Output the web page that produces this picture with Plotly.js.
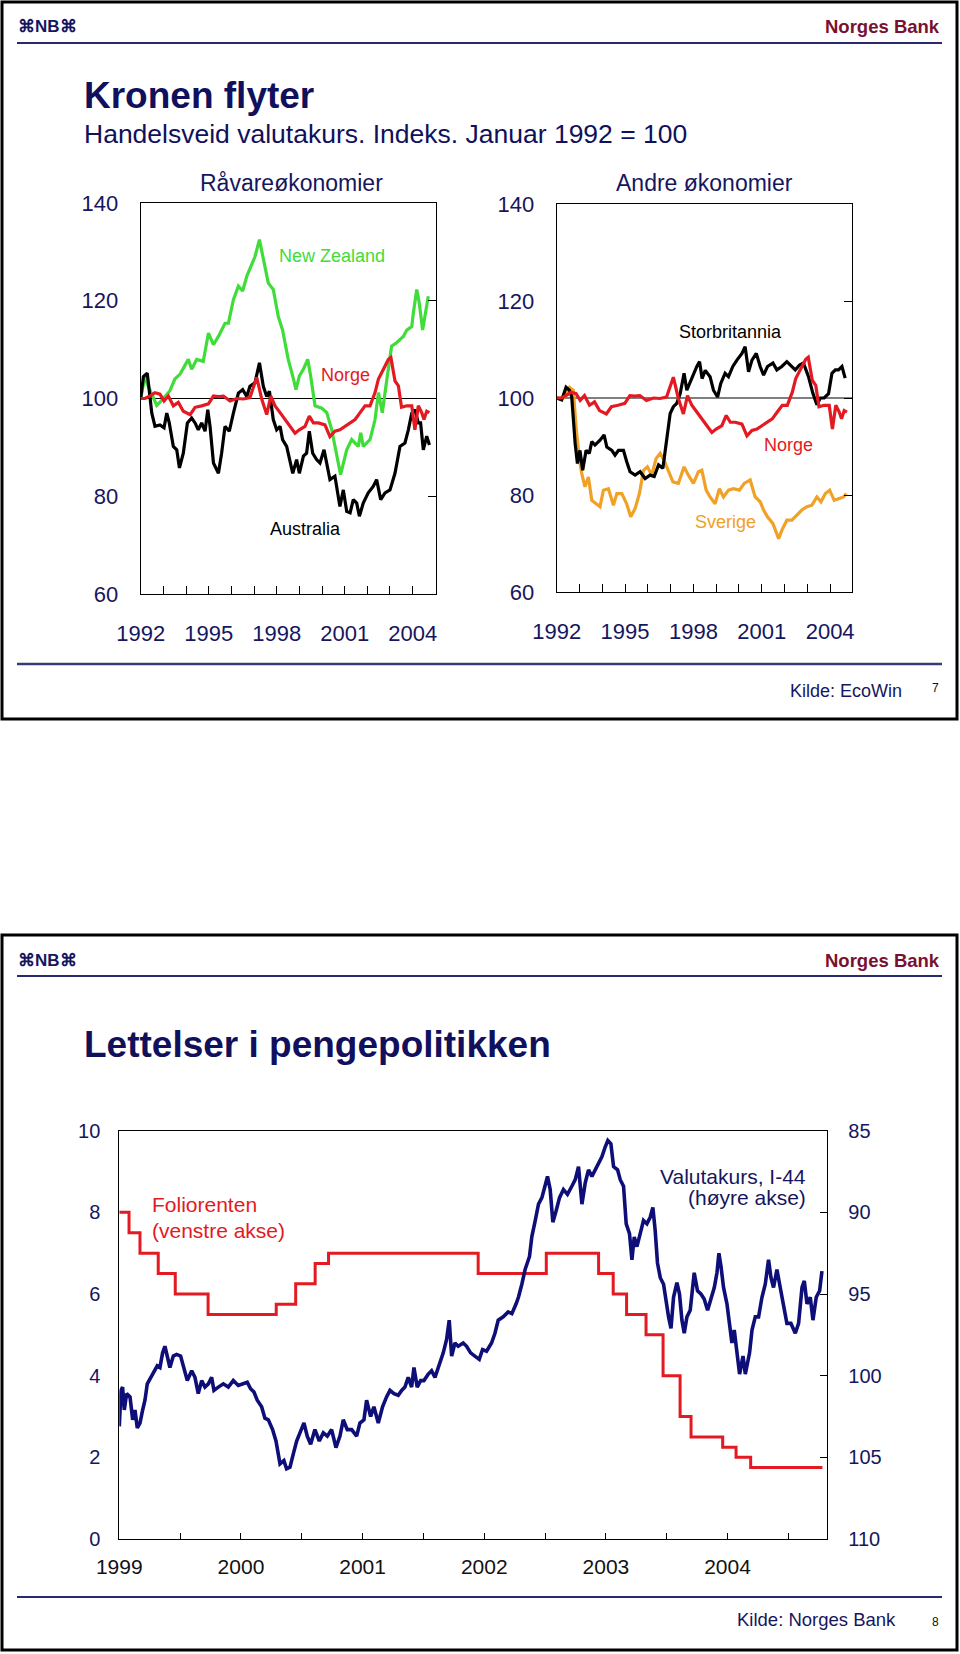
<!DOCTYPE html>
<html><head><meta charset="utf-8">
<script src="https://cdn.plot.ly/plotly-3.0.1.min.js"></script>
<style>html,body{margin:0;padding:0;background:#fff}#chart{width:960px;height:1654px}</style>
</head><body><div id="chart"></div>
<script>
// ---------- DATA ----------
// Top left panel: Råvareøkonomier (index, Jan 1992 = 100)
const nzYears = [1992.00,1992.19,1992.29,1992.71,1993.00,1993.29,1993.51,1993.74,1994.10,1994.25,1994.47,1994.76,1994.99,1995.21,1995.43,1995.72,1995.87,1996.09,1996.31,1996.50,1996.68,1996.90,1997.04,1997.24,1997.41,1997.63,1997.85,1998.07,1998.26,1998.51,1998.74,1998.85,1999.00,1999.18,1999.37,1999.50,1999.69,1999.99,2000.21,2000.43,2000.82,2001.09,2001.31,2001.60,2001.71,2001.82,2002.12,2002.34,2002.49,2002.66,2002.82,2003.07,2003.29,2003.59,2003.74,2003.96,2004.03,2004.18,2004.29,2004.44,2004.54,2004.69];
const nzValues = [100,104.6,103,98.6,100,101.6,104,105,108,106,108,107.6,113.4,111,112.7,115.4,115.4,120.2,123,122,125,127.7,129,132.5,128.4,123.6,122.3,116.8,114,108,104,101.8,104.6,106,108,104.6,98.5,98,97.1,93.6,84.4,89.5,91.6,90.2,93,90.2,91.6,95.7,101.2,97.1,102.5,110.7,111.4,112.7,114,114.7,117.5,122.3,119.6,114,116.8,120.9];

const auYears = [1992.00,1992.12,1992.29,1992.49,1992.63,1992.85,1993.03,1993.15,1993.26,1993.44,1993.59,1993.71,1993.88,1994.06,1994.25,1994.40,1994.54,1994.69,1994.84,1994.96,1995.06,1995.21,1995.43,1995.57,1995.72,1995.91,1996.09,1996.31,1996.50,1996.68,1996.82,1997.04,1997.24,1997.41,1997.56,1997.68,1997.85,1998.00,1998.15,1998.26,1998.44,1998.59,1998.71,1998.88,1999.00,1999.18,1999.32,1999.44,1999.59,1999.76,1999.91,2000.09,2000.21,2000.35,2000.57,2000.79,2000.94,2001.09,2001.24,2001.38,2001.53,2001.65,2001.82,2002.04,2002.26,2002.41,2002.59,2002.78,2003.00,2003.22,2003.44,2003.66,2003.81,2003.96,2004.10,2004.25,2004.35,2004.47,2004.62,2004.74];
const auValues = [100,104.5,105.2,97,94.3,94.6,94,97,95,90.2,89.5,85.8,88.8,95,96,95,93.6,95,93.3,97.7,94.3,86.8,84.7,88.8,94.3,93.3,97,101.1,101.8,100.4,102.5,103.2,107.3,102.5,100.4,101.5,95.7,93.6,94.3,91.6,90.2,87.5,84.7,87.5,84.7,88.2,88.8,93.3,88.8,87.5,86.8,89.5,86.8,83.4,84.1,77.9,81.3,76.9,76.6,79.3,78.6,75.9,78.6,80.7,82,83.4,79.3,80.7,81.3,84.7,90.2,90.9,93.6,97,97.7,95,95,89.5,92.3,90.5];

// Norge (shown in both top panels)
const noYears = [1992.00,1992.19,1992.41,1992.63,1992.85,1993.03,1993.22,1993.44,1993.66,1993.88,1994.18,1994.40,1994.69,1994.99,1995.21,1995.43,1995.65,1995.94,1996.24,1996.53,1996.82,1997.12,1997.34,1997.56,1997.74,1997.93,1998.15,1998.37,1998.59,1998.81,1999.00,1999.25,1999.44,1999.62,1999.84,2000.13,2000.35,2000.57,2000.79,2001.01,2001.24,2001.46,2001.68,2001.90,2002.12,2002.34,2002.49,2002.71,2002.93,2003.04,2003.22,2003.37,2003.51,2003.74,2003.96,2004.10,2004.25,2004.40,2004.50,2004.62,2004.74];
const noValues = [100,100,100.5,101.2,100.9,99.5,100.5,98.5,99.2,97.4,96.7,98.2,98.5,98.9,100.5,100.4,100.5,99.5,100,99.9,100.2,104.3,99.9,96.7,100.5,98.5,97.1,95.7,94.3,92.9,93.6,94.3,96.4,95,95,94.6,92.2,93.3,93.6,94.3,95,95.7,97.1,98.5,98.5,101.2,104,106,108,108.4,103.6,102.6,98.2,98.5,98.5,93.6,98.5,97.1,95.7,97.4,97.1];

// Top right panel: Andre økonomier
const ukYears = [1992.00,1992.22,1992.41,1992.56,1992.66,1992.81,1992.91,1993.02,1993.14,1993.29,1993.43,1993.54,1993.68,1993.90,1994.08,1994.20,1994.42,1994.56,1994.71,1994.93,1995.07,1995.22,1995.44,1995.66,1995.88,1996.10,1996.28,1996.47,1996.66,1996.83,1996.98,1997.12,1997.27,1997.42,1997.59,1997.71,1997.89,1998.00,1998.15,1998.27,1998.38,1998.52,1998.73,1998.88,1999.06,1999.20,1999.39,1999.54,1999.73,1999.91,2000.13,2000.27,2000.42,2000.57,2000.76,2000.93,2001.08,2001.25,2001.49,2001.66,2001.88,2002.10,2002.32,2002.47,2002.66,2002.83,2003.05,2003.24,2003.42,2003.57,2003.74,2003.93,2004.08,2004.23,2004.37,2004.52,2004.66];
const ukValues = [100,99.6,102.2,101.6,100.2,90.6,86.5,89.2,85.1,89.2,88.6,91,90.3,91.3,92.4,89.9,89.2,88.2,89.2,89.2,86.9,84.8,84.1,84.8,83.4,84.1,83.8,86.2,85.5,92,96.8,98.2,98.9,100.9,105.1,101.6,103.7,104.7,106.5,107.5,104,105.7,104.4,101.6,100.2,103,105.1,104.4,106.5,107.8,109.2,110.6,105.4,107.8,109.2,106.5,104.7,106.5,107.2,105.8,106.5,107.5,106.5,105.8,106.8,107.2,104.4,101,98.6,100,100,100.9,105.1,105.8,105.8,106.5,104.1];

const seYears = [1992.00,1992.29,1992.56,1992.73,1992.85,1993.00,1993.10,1993.24,1993.39,1993.54,1993.73,1993.90,1994.05,1994.27,1994.49,1994.64,1994.86,1995.07,1995.25,1995.44,1995.63,1995.81,1995.98,1996.17,1996.36,1996.54,1996.71,1996.90,1997.10,1997.34,1997.59,1997.78,1998.00,1998.22,1998.37,1998.56,1998.73,1998.95,1999.14,1999.32,1999.54,1999.76,2000.02,2000.23,2000.49,2000.71,2000.93,2001.08,2001.25,2001.49,2001.74,2001.88,2002.10,2002.32,2002.54,2002.76,2002.98,2003.20,2003.42,2003.60,2003.79,2003.98,2004.18,2004.37,2004.59,2004.71];
const seValues = [100,100,102.2,101.6,94,87.2,84.4,81.7,83.7,78.9,78.2,77.6,81,81.3,77.9,80.3,80.3,78.2,75.5,77.2,80.3,85.1,85.8,84.1,87.5,88.6,87.2,85.1,82.7,82.4,85.8,84.1,82.4,84.8,85.1,81,79.6,78.2,81.3,79.6,81,81.3,81,82.4,83.1,79.6,78.6,76.9,75.5,74.1,71,72.7,74.8,74.8,75.8,76.9,77.6,77.9,79.6,78.6,80.3,81,78.9,79.3,79.6,80.3];

const topTickYears = [1992,1993,1994,1995,1996,1997,1998,1999,2000,2001,2002,2003,2004];
const topTickText  = ['1992','','','1995','','','1998','','','2001','','','2004'];

// Bottom slide: Foliorenten (%) and Valutakurs I-44 (index, reversed right axis)
const rateYears  = [1999.00,1999.08,1999.17,1999.32,1999.46,1999.73,2000.29,2000.45,2000.61,2000.72,2001.95,2002.51,2002.94,2003.06,2003.17,2003.33,2003.47,2003.61,2003.70,2003.96,2004.07,2004.19,2004.78];
const rateValues = [8,7.5,7,6.5,6,5.5,5.75,6.25,6.75,7,6.5,7,6.5,6,5.5,5,4,3,2.5,2.25,2,1.75,1.75];

const fxYears = [1999.000,1999.014,1999.027,1999.041,1999.060,1999.088,1999.110,1999.129,1999.148,1999.170,1999.192,1999.211,1999.230,1999.258,1999.285,1999.312,1999.334,1999.356,1999.375,1999.395,1999.416,1999.444,1999.471,1999.504,1999.532,1999.559,1999.595,1999.622,1999.649,1999.677,1999.704,1999.732,1999.759,1999.778,1999.814,1999.855,1999.896,1999.937,1999.978,2000.019,2000.052,2000.079,2000.107,2000.134,2000.170,2000.197,2000.225,2000.260,2000.288,2000.321,2000.353,2000.375,2000.403,2000.430,2000.458,2000.485,2000.518,2000.545,2000.573,2000.608,2000.644,2000.677,2000.710,2000.745,2000.781,2000.814,2000.841,2000.874,2000.910,2000.951,2000.978,2001.011,2001.033,2001.066,2001.093,2001.129,2001.164,2001.197,2001.225,2001.258,2001.293,2001.321,2001.348,2001.375,2001.403,2001.422,2001.449,2001.477,2001.504,2001.540,2001.567,2001.595,2001.630,2001.663,2001.690,2001.712,2001.732,2001.759,2001.786,2001.827,2001.855,2001.888,2001.923,2001.959,2001.986,2002.019,2002.060,2002.088,2002.115,2002.156,2002.197,2002.227,2002.262,2002.281,2002.309,2002.336,2002.372,2002.391,2002.419,2002.446,2002.474,2002.501,2002.520,2002.542,2002.564,2002.591,2002.619,2002.651,2002.684,2002.720,2002.748,2002.775,2002.803,2002.830,2002.857,2002.885,2002.912,2002.939,2002.967,2002.994,2003.016,2003.041,2003.063,2003.096,2003.118,2003.145,2003.167,2003.194,2003.214,2003.233,2003.255,2003.282,2003.309,2003.337,2003.364,2003.386,2003.405,2003.424,2003.447,2003.474,2003.496,2003.515,2003.535,2003.556,2003.584,2003.605,2003.625,2003.644,2003.666,2003.693,2003.726,2003.753,2003.781,2003.808,2003.836,2003.864,2003.891,2003.913,2003.929,2003.946,2003.967,2003.995,2004.016,2004.036,2004.055,2004.077,2004.099,2004.127,2004.146,2004.181,2004.201,2004.228,2004.255,2004.283,2004.310,2004.337,2004.357,2004.378,2004.406,2004.433,2004.461,2004.488,2004.521,2004.557,2004.584,2004.612,2004.631,2004.653,2004.680,2004.702,2004.729,2004.757,2004.776];
const fxValues = [103.1,100.9,100.7,102.1,101.1,101.3,102.7,102.1,103.2,102.9,102.1,101.5,100.5,100.1,99.7,99.4,99.5,98.6,98.2,98.8,99.5,98.8,98.7,98.8,99.5,100.3,99.7,100.1,101.1,100.3,100.7,100.5,100.1,100.9,100.7,100.5,100.7,100.3,100.6,100.5,100.4,100.8,101.0,101.5,101.9,102.6,102.7,103.3,104.0,105.4,105.2,105.7,105.6,104.8,104.0,103.5,102.9,103.7,104.2,103.3,104.0,103.5,103.7,103.3,104.4,103.7,102.7,103.3,103.3,103.7,102.9,102.7,101.5,102.5,101.9,102.9,101.9,101.3,100.9,101.1,101.2,100.9,100.7,100.1,100.7,99.5,100.7,100.3,100.3,99.9,99.7,100.1,99.3,98.6,97.8,96.6,98.8,98.0,98.2,98.0,98.2,98.6,98.8,99.0,98.4,98.5,98.0,97.4,96.6,96.4,96.1,96.2,95.6,95.2,94.4,93.5,92.7,91.5,90.5,89.5,89.1,88.4,87.8,88.6,90.6,89.9,89.1,88.6,88.9,88.4,88.0,87.2,89.5,88.2,87.4,87.8,87.4,86.9,86.6,86.0,85.6,85.8,87.2,87.4,88.0,88.4,90.7,91.3,92.9,91.5,92.1,91.3,90.5,90.7,90.3,89.7,91.1,93.1,94.0,94.4,95.6,96.4,97.1,95.2,94.3,95.0,96.6,97.4,96.4,96.0,93.7,94.8,95.0,95.3,96.0,95.2,94.6,93.7,92.5,93.3,94.6,95.6,96.8,98.0,97.2,98.4,99.9,98.8,99.9,98.6,97.2,96.4,96.4,95.2,94.4,92.9,94.0,94.6,93.5,94.6,95.6,96.8,96.8,97.4,96.8,94.6,94.2,95.6,95.2,96.6,95.2,94.8,93.6];

const bottomTickVals = [1999,1999.5,2000,2000.5,2001,2001.5,2002,2002.5,2003,2003.5,2004,2004.5];
const bottomTickText = ['1999','','2000','','2001','','2002','','2003','','2004',''];

// ---------- LAYOUT ----------
const W = 960, H = 1654;
const PX = x => x / W, PY = y => 1 - y / H;
const FONT = '"Liberation Sans", Arial, Helvetica, sans-serif';
const NAVY = '#16165e';
const RED = '#e31a22', GREEN = '#3fdc3a', ORANGE = '#f0a126', FXBLUE = '#0e0e78';

const traces = [
  {x: nzYears, y: nzValues, xaxis: 'x', yaxis: 'y', mode: 'lines', line: {color: GREEN, width: 3.2}},
  {x: auYears, y: auValues, xaxis: 'x', yaxis: 'y', mode: 'lines', line: {color: '#000', width: 3.2}},
  {x: noYears, y: noValues, xaxis: 'x', yaxis: 'y2', mode: 'lines', line: {color: RED, width: 3.2}},
  {x: seYears, y: seValues, xaxis: 'x2', yaxis: 'y3', mode: 'lines', line: {color: ORANGE, width: 3.2}},
  {x: ukYears, y: ukValues, xaxis: 'x2', yaxis: 'y3', mode: 'lines', line: {color: '#000', width: 3.2}},
  {x: noYears, y: noValues, xaxis: 'x2', yaxis: 'y4', mode: 'lines', line: {color: RED, width: 3.2}},
  {x: rateYears, y: rateValues, xaxis: 'x3', yaxis: 'y5', mode: 'lines', line: {color: RED, width: 3, shape: 'hv'}},
  {x: fxYears, y: fxValues, xaxis: 'x3', yaxis: 'y6', mode: 'lines', line: {color: FXBLUE, width: 3.6}}
].map(t => Object.assign(t, {showlegend: false, hoverinfo: 'skip'}));

const topX = (dom, range, anchor) => ({
  domain: dom, range: range, anchor: anchor,
  tickmode: 'array', tickvals: topTickYears, ticktext: topTickText,
  ticks: 'inside', ticklen: 8, tickwidth: 1, tickcolor: '#000',
  showline: true, linecolor: '#000', linewidth: 1, mirror: true,
  showgrid: false, zeroline: false,
  tickfont: {family: FONT, size: 22, color: NAVY}, ticklabelstandoff: 20
});
const topY = (dom, anchor) => ({
  domain: dom, range: [60, 140], anchor: anchor,
  tickmode: 'array', tickvals: [60, 80, 100, 120, 140], ticks: '',
  showline: true, linecolor: '#000', linewidth: 1, mirror: true,
  showgrid: false, zeroline: false,
  tickfont: {family: FONT, size: 22, color: NAVY}, ticklabelstandoff: 17
});
const topYR = (over, anchor) => ({
  overlaying: over, anchor: anchor, side: 'right', range: [60, 140],
  tickmode: 'array', tickvals: [80, 100, 120], ticks: 'inside', ticklen: 8, tickcolor: '#000',
  showticklabels: false, showline: false, showgrid: false, zeroline: false
});

const layout = {
  width: W, height: H, margin: {l: 0, r: 0, t: 0, b: 0},
  paper_bgcolor: '#fff', plot_bgcolor: '#fff',
  font: {family: FONT, color: NAVY},
  xaxis: topX([PX(140.7), PX(436)], [1992, 2005.03], 'y'),
  yaxis: topY([PY(594), PY(203)], 'x'),
  yaxis2: topYR('y', 'x'),
  xaxis2: topX([PX(556.7), PX(852)], [1992, 2004.96], 'y3'),
  yaxis3: topY([PY(592), PY(204)], 'x2'),
  yaxis4: topYR('y3', 'x2'),
  xaxis3: {
    domain: [PX(119.3), PX(827.3)], range: [1999, 2004.82], anchor: 'y5',
    tickmode: 'array', tickvals: bottomTickVals, ticktext: bottomTickText,
    ticks: 'inside', ticklen: 6, tickwidth: 1, tickcolor: '#000',
    showline: true, linecolor: '#000', linewidth: 1, mirror: true,
    showgrid: false, zeroline: false,
    tickfont: {family: FONT, size: 21, color: '#111'}, ticklabelstandoff: 9
  },
  yaxis5: {
    domain: [PY(1539), PY(1130.7)], range: [0, 10], anchor: 'x3',
    tickmode: 'array', tickvals: [0, 2, 4, 6, 8, 10], ticks: '',
    showline: true, linecolor: '#000', linewidth: 1,
    showgrid: false, zeroline: false,
    tickfont: {family: FONT, size: 20, color: NAVY}, ticklabelstandoff: 14
  },
  yaxis6: {
    overlaying: 'y5', anchor: 'x3', side: 'right', range: [110, 85],
    tickmode: 'array', tickvals: [85, 90, 95, 100, 105, 110],
    ticks: 'inside', ticklen: 7, tickcolor: '#000',
    showline: true, linecolor: '#000', linewidth: 1,
    showgrid: false, zeroline: false,
    tickfont: {family: FONT, size: 20, color: NAVY}, ticklabelstandoff: 16
  },
  shapes: [
    {type: 'rect', xref: 'paper', yref: 'paper', x0: PX(2), x1: PX(957), y0: PY(2), y1: PY(719), line: {color: '#000', width: 3}},
    {type: 'rect', xref: 'paper', yref: 'paper', x0: PX(2), x1: PX(957), y0: PY(935), y1: PY(1650), line: {color: '#000', width: 3}},
    {type: 'line', xref: 'paper', yref: 'paper', x0: PX(17), x1: PX(942), y0: PY(43), y1: PY(43), line: {color: '#2a2a6a', width: 2}},
    {type: 'line', xref: 'paper', yref: 'paper', x0: PX(17), x1: PX(942), y0: PY(664), y1: PY(664), line: {color: '#3a3a70', width: 2.5}},
    {type: 'line', xref: 'paper', yref: 'paper', x0: PX(17), x1: PX(942), y0: PY(976), y1: PY(976), line: {color: '#2a2a6a', width: 2}},
    {type: 'line', xref: 'paper', yref: 'paper', x0: PX(17), x1: PX(942), y0: PY(1597), y1: PY(1597), line: {color: '#2a2a6a', width: 2}},
    {type: 'line', xref: 'x domain', yref: 'y', x0: 0, x1: 1, y0: 100, y1: 100, layer: 'below', line: {color: '#000', width: 1}},
    {type: 'line', xref: 'x2 domain', yref: 'y3', x0: 0, x1: 1, y0: 100, y1: 100, layer: 'below', line: {color: '#000', width: 1}}
  ],
  annotations: []
};

function txt(text, x, y, size, color, xanchor, bold) {
  layout.annotations.push({
    xref: 'paper', yref: 'paper', x: PX(x), y: PY(y), text: bold ? '<b>' + text + '</b>' : text,
    showarrow: false, xanchor: xanchor || 'center', yanchor: 'middle',
    font: {family: FONT, size: size, color: color}
  });
}
// Slide 7
txt('⌘NB⌘', 16, 27, 17, NAVY, 'left', true);
txt('Norges Bank', 942, 27, 18.5, '#7a1030', 'right', true);
txt('Kronen flyter', 82, 96, 37, '#10105c', 'left', true);
txt('Handelsveid valutakurs. Indeks. Januar 1992 = 100', 82, 134, 26.5, '#10105c', 'left');
txt('Råvareøkonomier', 291, 183, 23, NAVY);
txt('Andre økonomier', 704, 183, 23, NAVY);
txt('New Zealand', 332, 256, 18, GREEN);
txt('Norge', 345, 375, 18, RED);
txt('Australia', 305, 529, 18, '#000');
txt('Storbritannia', 730, 332, 18, '#000');
txt('Norge', 788, 445, 18, RED);
txt('Sverige', 725, 522, 18, ORANGE);
txt('Kilde: EcoWin', 904, 691, 18, NAVY, 'right');
txt('7', 935, 688, 12, '#111');
// Slide 8
txt('⌘NB⌘', 16, 960, 17, NAVY, 'left', true);
txt('Norges Bank', 942, 960, 18.5, '#7a1030', 'right', true);
txt('Lettelser i pengepolitikken', 82, 1044, 37, '#10105c', 'left', true);
txt('Foliorenten', 150, 1204, 21, RED, 'left');
txt('(venstre akse)', 150, 1230, 21, RED, 'left');
txt('Valutakurs, I-44', 808, 1176, 21, NAVY, 'right');
txt('(høyre akse)', 808, 1197, 21, NAVY, 'right');
txt('Kilde: Norges Bank', 898, 1619, 18.5, NAVY, 'right');
txt('8', 935, 1622, 12, '#111');

Plotly.newPlot('chart', traces, layout, {staticPlot: true, displayModeBar: false});
</script>
</body></html>
